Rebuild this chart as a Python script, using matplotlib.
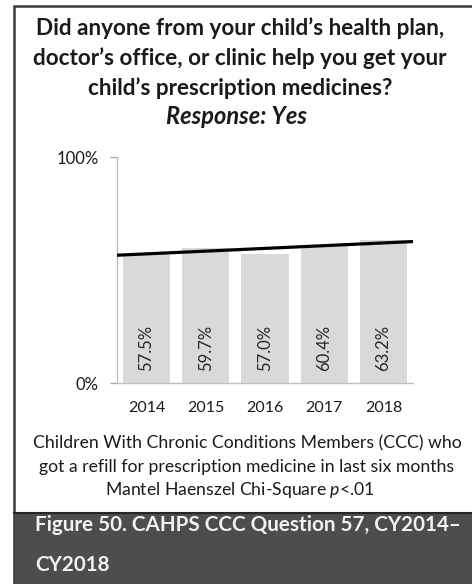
import numpy as np
import matplotlib
matplotlib.use("Agg")
import matplotlib.pyplot as plt
from matplotlib.patches import Rectangle
from matplotlib.lines import Line2D

# Survey results: share answering "Yes" by calendar year
years = ["2014", "2015", "2016", "2017", "2018"]
yes_pct = [57.5, 59.7, 57.0, 60.4, 63.2]
value_labels = ["57.5%", "59.7%", "57.0%", "60.4%", "63.2%"]

title_lines = [
    "Did anyone from your child\u2019s health plan,",
    "doctor\u2019s office, or clinic help you get your",
    "child\u2019s prescription medicines?",
]
subtitle = "Response: Yes"
note_lines = [
    "Children With Chronic Conditions Members (CCC) who",
    "got a refill for prescription medicine in last six months",
    r"Mantel Haenszel Chi-Square $\mathit{p}$<.01",
]
caption_lines = ["Figure 50. CAHPS CCC Question 57, CY2014\u2013", "CY2018"]

FONT = "Lato"
plt.rcParams["font.family"] = [FONT, "DejaVu Sans"]
plt.rcParams["mathtext.fontset"] = "custom"
plt.rcParams["mathtext.rm"] = FONT
plt.rcParams["mathtext.it"] = FONT + ":italic"

W, H = 472, 584
fig = plt.figure(figsize=(W / 100, H / 100), dpi=100)
fig.patch.set_facecolor("white")


def fx(px):
    return px / W


def fy(py):
    return 1 - py / H


# Outer frame of the panel
frame = Rectangle((fx(13.5), -0.1), 1.2, fy(6) + 0.1, transform=fig.transFigure,
                  facecolor="white", edgecolor="#3a3a3a", linewidth=1.8,
                  zorder=-2)
fig.patches.append(frame)

# Dark caption band
band = Rectangle((fx(14.5), 0), 1.2, fy(513), transform=fig.transFigure,
                 facecolor="#4d4d4d", edgecolor="none", zorder=-1)
fig.patches.append(band)
fig.lines.append(Line2D([fx(13.5), 1], [fy(513), fy(513)],
                        transform=fig.transFigure, color="#262626",
                        linewidth=1.5, zorder=-0.5))

# Title block
title_y = [28, 58, 88]
for line, y in zip(title_lines, title_y):
    fig.text(fx(240), fy(y), line, ha="center", va="center",
             fontsize=16.2, fontweight="bold", color="#1a1a1a")
fig.text(fx(237), fy(117), subtitle, ha="center", va="center",
         fontsize=17, fontweight="bold", fontstyle="italic",
         color="#1a1a1a")

# Chart area
ax = fig.add_axes([fx(117), fy(383), fx(413) - fx(117), fy(157) - fy(383)])
x = np.arange(len(years))
ax.bar(x, yes_pct, width=0.8, color="#d9d9d9", zorder=2)
for xi, lab in zip(x, value_labels):
    ax.text(xi, 5.5, lab, rotation=90, ha="center", va="bottom",
            fontsize=12, color="#262626", zorder=3)

# Linear trend across the years
slope, intercept = np.polyfit(x, yes_pct, 1)
xt = np.array([-0.5, len(years) - 0.5])
ax.plot(xt, slope * xt + intercept, color="black", linewidth=2.3,
        solid_capstyle="butt", zorder=4)

ax.set_xlim(-0.5, len(years) - 0.5)
ax.set_ylim(0, 100)
ax.set_yticks([0, 100])
ax.set_yticklabels(["0%", "100%"])
ax.set_xticks(x)
ax.set_xticklabels(years)
ax.tick_params(axis="x", length=0, pad=13, labelsize=11.5, labelcolor="#1a1a1a")
ax.tick_params(axis="y", length=5, width=0.9, color="#a6a6a6", pad=8,
               labelsize=12, labelcolor="#1a1a1a")
for side in ("top", "right"):
    ax.spines[side].set_visible(False)
for side in ("left", "bottom"):
    ax.spines[side].set_color("#bfbfbf")
    ax.spines[side].set_linewidth(1.0)
ax.set_facecolor("none")

# Footnote
note_pos = [(247, 443), (247, 467), (240, 490)]
for line, (px, py) in zip(note_lines, note_pos):
    fig.text(fx(px), fy(py), line, ha="center", va="center",
             fontsize=12.7, color="#1a1a1a")

# Caption text in the band
cap_y = [525, 565]
for line, y in zip(caption_lines, cap_y):
    fig.text(fx(35), fy(y), line, ha="left", va="center",
             fontsize=14.9, fontweight="bold", color="#f2f2f2", zorder=3)

fig.savefig("out.png", dpi=100, facecolor="white")
